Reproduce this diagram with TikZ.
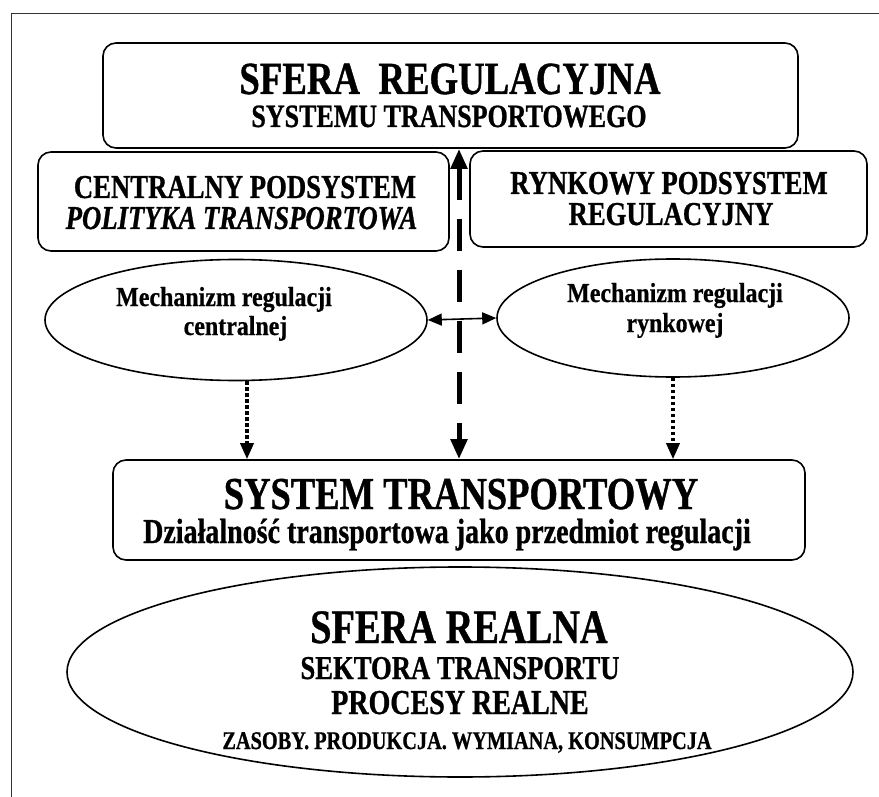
\documentclass[tikz,border=0pt]{standalone}
\usepackage{fontspec}
\setmainfont[FakeStretch=0.87, BoldFeatures={FakeBold=0.6}, BoldItalicFeatures={FakeBold=0.6}]{Liberation Serif}
\newfontfamily\capsfont[FakeStretch=0.8, BoldFeatures={FakeBold=0.8}, BoldItalicFeatures={FakeBold=0.8}]{Liberation Serif}
\usetikzlibrary{arrows.meta,shapes.geometric}
\begin{document}
\begin{tikzpicture}[x=1pt,y=-1pt,
  box/.style={draw, line width=1.6pt, rounded corners=13pt, inner sep=0pt},
  oval/.style={draw, ellipse, line width=1.6pt, inner sep=0pt},
  lbl/.style={anchor=base, inner sep=0pt},
  dasharrow/.style={line width=5pt, dash pattern=on 32pt off 19pt,
    {Triangle[length=20pt,width=16pt]}-{Triangle[length=20pt,width=16pt]}},
  dotarrow/.style={line width=3.5pt, dash pattern=on 3.5pt off 2.5pt,
    -{Triangle[length=16pt,width=13pt]}},
  twoarrow/.style={line width=1.6pt,
    {Triangle[length=14pt,width=12pt]}-{Triangle[length=14pt,width=12pt]}},
  frameline/.style={line width=1pt, black!80}
]
\useasboundingbox (0,0) rectangle (879,797);
\draw[frameline] (879,14) -- (11,14) -- (11,797);

% shapes
\node[box, minimum width=695pt, minimum height=105pt] (top) at (450.5,95.5) {};
\node[box, minimum width=411pt, minimum height=99pt] (cps) at (243.5,201.5) {};
\node[box, minimum width=397pt, minimum height=96pt] (rps) at (668.5,199) {};
\node[oval, minimum width=382pt, minimum height=121pt] (mrc) at (236,320) {};
\node[oval, minimum width=352pt, minimum height=118pt] (mrr) at (673,318) {};
\node[box, minimum width=692pt, minimum height=100pt] (sys) at (459,510) {};
\node[oval, minimum width=786pt, minimum height=210pt] (real) at (460,672) {};

% texts
\node[lbl, font=\capsfont\bfseries\fontsize{46}{50}\selectfont] (t1) at (450,94) {SFERA~~REGULACYJNA};
\node[lbl, font=\capsfont\bfseries\fontsize{32.5}{36}\selectfont] (t2) at (449,127) {SYSTEMU TRANSPORTOWEGO};
\node[lbl, font=\capsfont\bfseries\fontsize{33.4}{36}\selectfont] (t3) at (245,198) {CENTRALNY PODSYSTEM};
\node[lbl, font=\capsfont\bfseries\itshape\fontsize{33.4}{36}\selectfont] (t4) at (241.5,229) {POLITYKA TRANSPORTOWA};
\node[lbl, font=\capsfont\bfseries\fontsize{33.4}{36}\selectfont] (t5) at (669,194) {RYNKOWY PODSYSTEM};
\node[lbl, font=\capsfont\bfseries\fontsize{33.4}{36}\selectfont] (t6) at (671,225) {REGULACYJNY};
\node[lbl, font=\bfseries\fontsize{27.5}{31}\selectfont] (t7) at (224,306) {Mechanizm regulacji};
\node[lbl, font=\bfseries\fontsize{27.5}{31}\selectfont] (t8) at (235.5,335) {centralnej};
\node[lbl, font=\bfseries\fontsize{27.5}{31}\selectfont] (t9) at (675,302) {Mechanizm regulacji};
\node[lbl, font=\bfseries\fontsize{27.5}{31}\selectfont] (t10) at (675,332) {rynkowej};
\node[lbl, font=\capsfont\bfseries\fontsize{45.7}{50}\selectfont] (t11) at (461,509) {SYSTEM TRANSPORTOWY};
\node[lbl, font=\capsfont\bfseries\fontsize{35}{38}\selectfont] (t12) at (447,543) {Działalność transportowa jako przedmiot regulacji};
\node[lbl, font=\capsfont\bfseries\fontsize{48}{52}\selectfont] (t13) at (459,643) {SFERA REALNA};
\node[lbl, font=\capsfont\bfseries\fontsize{33.3}{36}\selectfont] (t14) at (460,679) {SEKTORA TRANSPORTU};
\node[lbl, font=\capsfont\bfseries\fontsize{35}{38}\selectfont] (t15) at (460,714) {PROCESY REALNE};
\node[lbl, font=\capsfont\bfseries\fontsize{25.4}{28}\selectfont] (t16) at (467,749) {ZASOBY. PRODUKCJA. WYMIANA, KONSUMPCJA};

% connectors
\draw[dasharrow] (sys.north |- top.south) -- (sys.north);
\draw[twoarrow] (mrc.east) -- (mrr.west);
\draw[dotarrow] ([xshift=11pt]mrc.south) -- ([xshift=11pt]mrc.south |- sys.north);
\draw[dotarrow] (mrr.south) -- (mrr.south |- sys.north);
\end{tikzpicture}
\end{document}
